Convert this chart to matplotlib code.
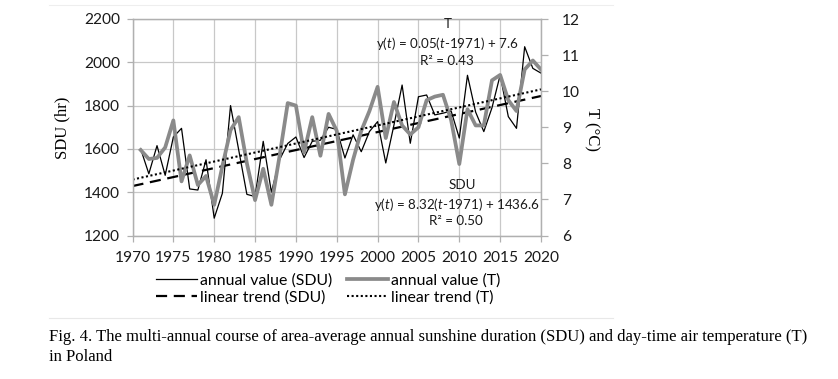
import matplotlib
matplotlib.use("Agg")
import matplotlib.pyplot as plt
from matplotlib.lines import Line2D
import numpy as np

plt.rcParams['font.family'] = 'Lato'
plt.rcParams['mathtext.fontset'] = 'custom'
plt.rcParams['mathtext.rm'] = 'Lato'
plt.rcParams['mathtext.it'] = 'Lato:italic'

# Data
years = list(range(1971, 2021))
sdu = [1600, 1485, 1615, 1478, 1655, 1695, 1415, 1410, 1550, 1280,
       1395, 1800, 1595, 1390, 1380, 1635, 1400, 1550, 1625, 1655,
       1560, 1635, 1640, 1700, 1690, 1558, 1665, 1587, 1680, 1726,
       1535, 1710, 1895, 1626, 1841, 1849, 1757, 1765, 1775, 1650,
       1940, 1770, 1680, 1790, 1941, 1749, 1695, 2072, 1972, 1950]
temp = [8.37, 8.12, 8.15, 8.44, 9.19, 7.50, 8.22, 7.40, 7.65, 6.85,
        7.92, 8.92, 9.28, 8.00, 6.98, 7.85, 6.85, 8.20, 9.67, 9.60,
        8.30, 9.28, 8.21, 9.37, 8.90, 7.14, 8.10, 8.90, 9.45, 10.12,
        8.70, 9.70, 9.05, 8.80, 9.00, 9.75, 9.85, 9.90, 9.20, 7.98,
        9.50, 9.05, 9.05, 10.30, 10.45, 9.75, 9.45, 10.60, 10.85, 10.60]

# trend equations printed on the chart: y(t) = a(t-1971) + b
sdu_slope, sdu_icpt = 8.32, 1436.6
t_slope, t_icpt = 0.05, 7.6
trend_years = np.array([1970, 2020])

x_ticks = list(range(1970, 2021, 5))
sdu_ticks = [1200, 1400, 1600, 1800, 2000, 2200]
t_ticks = [6, 7, 8, 9, 10, 11, 12]

W, H = 838, 379
fig = plt.figure(figsize=(W / 100, H / 100), dpi=100)
ax = fig.add_axes([132.5 / W, 1 - 235.5 / H, (541 - 132.5) / W, (235.5 - 19) / H])
ax2 = ax.twinx()

grid_col = '#c8c8c8'
ax.plot(years, sdu, color='black', lw=0.9, label='annual value (SDU)')
sdu_trend = sdu_icpt + sdu_slope * (trend_years - 1971)
ax.plot(trend_years, sdu_trend, color='black', lw=1.6, ls=(0, (5, 3)),
        label='linear trend (SDU)')

ax2.plot(years, temp, color='#8a8a8a', lw=2.7, label='annual value (T)')
t_trend = t_icpt + t_slope * (trend_years - 1971)
ax2.plot(trend_years, t_trend, color='black', lw=1.5, ls=(0, (1, 1.2)),
         label='linear trend (T)')

ax.set_xlim(1970, 2020)
ax.set_ylim(1200, 2200)
ax2.set_ylim(6, 12)
ax.set_xticks(x_ticks)
ax.set_yticks(sdu_ticks)
ax2.set_yticks(t_ticks)

ax.grid(True, color=grid_col, lw=0.9)
ax.set_axisbelow(True)
for a in (ax, ax2):
    for s in a.spines.values():
        s.set_color('#b0b0b0')
        s.set_linewidth(0.9)
ax.tick_params(axis='both', colors='#b0b0b0', labelcolor='#1a1a1a',
               labelsize=11.2, length=4, width=0.9)
ax.tick_params(axis='y', pad=5)
ax.tick_params(axis='x', pad=7)
ax2.tick_params(axis='y', colors='#b0b0b0', labelcolor='#1a1a1a',
                labelsize=11.2, length=5, width=0.9, pad=10)

fig.text(62 / W, 1 - 128 / H, 'SDU (hr)', rotation=90, ha='center', va='center',
         family='Liberation Serif', fontsize=12)
fig.text(592 / W, 1 - 130 / H, 'T (°C)', rotation=270, ha='center', va='center',
         family='Liberation Serif', fontsize=12)

ann = dict(ha='center', va='center', fontsize=9.6, color='#1a1a1a')
fig.text(448 / W, 1 - 24 / H, 'T', **ann)
fig.text(447 / W, 1 - 43 / H, r'y($t$) = $\mathit{0.05}$($t$-1971) + $\mathit{7.6}$', **ann)
fig.text(447 / W, 1 - 61 / H, 'R² = 0.43', **ann)
fig.text(462 / W, 1 - 185 / H, 'SDU', **ann)
fig.text(457 / W, 1 - 204 / H, r'y($t$) = $\mathit{8.32}$($t$-1971) + $\mathit{1436.6}$', **ann)
fig.text(456 / W, 1 - 221 / H, 'R² = 0.50', **ann)

h1, l1 = ax.get_legend_handles_labels()
h2, l2 = ax2.get_legend_handles_labels()
leg = fig.legend(h1 + h2, l1 + l2, ncol=2, loc='center',
                 bbox_to_anchor=(328 / W, 1 - 289 / H), frameon=False,
                 fontsize=11.4, handlelength=2.6, handletextpad=0.2,
                 columnspacing=0.9, labelspacing=0.2, borderpad=0)

# faint border of the embedded chart picture
fig.add_artist(Line2D([49 / W, 613 / W], [1 - 318 / H, 1 - 318 / H],
                      color='#e8e8e8', lw=0.8))
fig.add_artist(Line2D([49 / W, 613 / W], [1 - 5 / H, 1 - 5 / H],
                      color='#eeeeee', lw=0.8))

fig.text(49 / W, 1 - 337 / H,
         'Fig. 4. The multi-annual course of area-average annual sunshine duration (SDU) '
         'and day-time air temperature (T)',
         family='Liberation Serif', fontsize=12, va='center', ha='left')
fig.text(49 / W, 1 - 357 / H, 'in Poland', family='Liberation Serif', fontsize=12,
         va='center', ha='left')

fig.savefig('out.png', dpi=100)
